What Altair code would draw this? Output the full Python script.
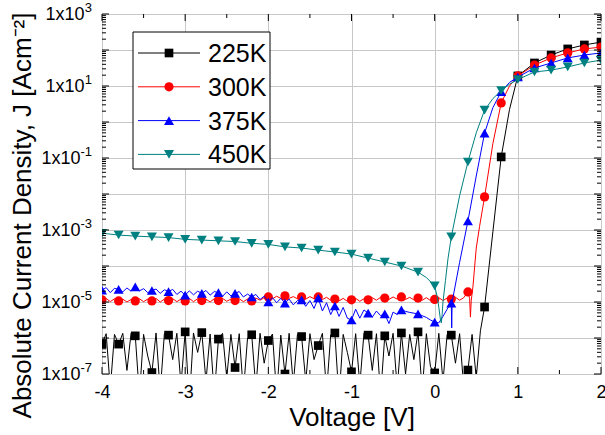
import altair as alt
import pandas as pd

SERIES = ["225K", "300K", "375K", "450K"]
COLORS = ["#000000", "#ff0000", "#0000ff", "#008080"]
SHAPES = ["square", "circle", "triangle-up", "triangle-down"]
SIZES = [75, 85, 100, 100]

X_TICKS = [-4, -3, -2, -1, 0, 1, 2]
Y_LABEL_J = [1e3, 1e1, 1e-1, 1e-3, 1e-5, 1e-7]
Y_LABEL_EXP = ["3", "1", "-1", "-3", "-5", "-7"]

# ---- marker data (every 0.2 V), log10 of J ----
X_MARK = [round(-4 + 0.2 * i, 1) for i in range(31)]
M225 = [-6.17, -6.17, -5.94, -6.96, -5.92, -5.83, -5.85, -6.03, -6.82, -5.91,
        -6.07, -7.0, -5.96, -6.21, -5.86, -6.94, -5.92, -5.94, -5.86, -5.83,
        -6.97, -5.92, -6.89, -5.14, -0.97, 1.28, 1.64, 1.86, 2.03, 2.14, 2.22]
M300 = [-4.94, -4.97, -4.97, -4.97, -4.96, -4.97, -4.96, -4.96, -4.96, -4.97,
        -4.86, -4.83, -4.86, -4.86, -4.92, -4.94, -4.94, -4.89, -4.86, -4.89,
        -4.93, -4.92, -4.72, -2.08, 0.53, 1.28, 1.58, 1.78, 1.92, 2.03, 2.08]
M375 = [-4.67, -4.65, -4.58, -4.68, -4.71, -4.81, -4.76, -4.74, -4.76, -4.86,
        -5.00, -5.03, -4.94, -4.89, -5.11, -5.50, -5.31, -5.33, -5.22, -5.33,
        -5.56, -5.03, -2.75, -0.31, 0.84, 1.25, 1.50, 1.64, 1.78, 1.86, 1.92]
M450 = [-3.09, -3.14, -3.17, -3.19, -3.21, -3.26, -3.28, -3.30, -3.32, -3.37,
        -3.40, -3.47, -3.50, -3.56, -3.61, -3.67, -3.78, -3.89, -4.00, -4.17,
        -4.55, -3.19, -1.11, 0.33, 0.87, 1.18, 1.39, 1.44, 1.53, 1.64, 1.72]

# ---- measured line data, log10 of J ----
X_L225 = [round(-4 + 0.05 * i, 2) for i in range(91)] + [0.55, 0.6, 0.7, 0.8, 0.9, 1.0, 1.2, 1.4, 1.6, 1.8, 2.0]
L225 = [-6.17, -5.88, -7.4, -5.90, -6.17, -5.87, -6.9, -5.86,
        -5.94, -7.6, -5.90, -6.5, -6.96, -5.86, -7.5, -5.88,
        -5.92, -6.6, -5.87, -7.3, -5.83, -7.8, -5.86, -6.4,
        -5.85, -7.2, -5.89, -7.6, -6.03, -5.87, -7.1, -5.90,
        -6.82, -5.88, -7.5, -6.0, -5.91, -7.4, -5.87, -6.7,
        -6.07, -5.89, -7.6, -5.92, -7.0, -5.87, -7.3, -5.9,
        -5.96, -7.2, -5.88, -6.6, -6.21, -5.87, -7.5, -5.91,
        -5.86, -7.7, -5.9, -6.4, -6.94, -5.88, -7.3, -5.86,
        -5.92, -6.9, -5.88, -7.6, -5.94, -6.5, -5.87, -7.4,
        -5.86, -7.0, -5.9, -6.6, -5.83, -7.5, -5.88, -6.8,
        -6.97, -5.87, -7.2, -5.9, -5.92, -6.7, -5.88, -7.4,
        -6.89, -5.9, -7.1,
        -5.8, -5.14, -3.05, -0.97, 0.35, 1.28, 1.64, 1.86, 2.03, 2.14, 2.22]

X_L300 = [round(-4 + 0.05 * i, 2) for i in range(89)] + [0.42, 0.43, 0.44, 0.46, 0.5, 0.54, 0.6, 0.7, 0.8, 0.9, 1.0, 1.2, 1.4, 1.6, 1.8, 2.0]
L300 = [-4.94, -4.90, -4.99, -4.91, -4.97, -4.92, -5.00, -4.93,
        -4.97, -4.91, -4.99, -4.92, -4.97, -4.90, -5.00, -4.92,
        -4.96, -4.91, -4.99, -4.92, -4.97, -4.90, -4.99, -4.91,
        -4.96, -4.92, -5.00, -4.91, -4.96, -4.90, -4.98, -4.92,
        -4.96, -4.91, -4.99, -4.92, -4.97, -4.89, -4.95, -4.88,
        -4.86, -4.91, -4.84, -4.90, -4.83, -4.90, -4.85, -4.91,
        -4.86, -4.92, -4.85, -4.91, -4.86, -4.93, -4.87, -4.95,
        -4.92, -4.97, -4.90, -4.98, -4.94, -4.90, -4.98, -4.91,
        -4.94, -4.88, -4.95, -4.87, -4.89, -4.93, -4.86, -4.92,
        -4.86, -4.93, -4.87, -4.94, -4.89, -4.95, -4.88, -4.96,
        -4.93, -4.88, -4.96, -4.89, -4.92, -4.87, -4.95, -4.88,
        -4.72,
        -4.9, -5.42, -4.95, -4.58, -3.5, -2.9, -2.08, -0.6, 0.53, 1.0, 1.28, 1.58, 1.78, 1.92, 2.03, 2.08]

X_L375 = [round(-4 + 0.05 * i, 2) for i in range(81)] + [0.05, 0.1, 0.15, 0.19, 0.2, 0.205, 0.21, 0.3, 0.4, 0.5, 0.6, 0.7, 0.8, 0.9, 1.0, 1.2, 1.4, 1.6, 1.8, 2.0]
L375 = [-4.67, -4.60, -4.74, -4.62, -4.65, -4.72, -4.61, -4.70,
        -4.58, -4.69, -4.63, -4.74, -4.68, -4.64, -4.76, -4.66,
        -4.71, -4.65, -4.79, -4.70, -4.81, -4.69, -4.80, -4.70,
        -4.76, -4.68, -4.81, -4.71, -4.74, -4.84, -4.72, -4.83,
        -4.76, -4.71, -4.86, -4.78, -4.86, -4.79, -4.93, -4.84,
        -5.00, -4.88, -5.02, -4.90, -5.03, -4.92, -5.08, -4.96,
        -4.94, -5.12, -4.96, -5.18, -4.89, -5.25, -5.02, -5.35,
        -5.11, -5.40, -5.15, -5.45, -5.50, -5.20, -5.45, -5.22,
        -5.31, -5.42, -5.25, -5.38, -5.33, -5.60, -5.28, -5.35,
        -5.22, -5.26, -5.29, -5.31, -5.33, -5.38, -5.43, -5.50,
        -5.56,
        -5.58, -5.40, -5.20, -5.05, -5.03, -5.72, -5.0, -3.9, -2.75, -1.5, -0.31, 0.4, 0.84, 1.1, 1.25, 1.5, 1.64, 1.78, 1.86, 1.92]

X_L450 = [-4.0, -3.8, -3.6, -3.4, -3.2, -3.0, -2.8, -2.6, -2.4, -2.2, -2.0, -1.8, -1.6, -1.4, -1.2, -1.0,
          -0.8, -0.6, -0.4, -0.2, -0.1, 0.0, 0.03, 0.05, 0.07, 0.08, 0.09, 0.10, 0.13, 0.16, 0.2, 0.3,
          0.4, 0.5, 0.6, 0.7, 0.8, 0.9, 1.0, 1.2, 1.4, 1.6, 1.8, 2.0]
L450 = [-3.09, -3.14, -3.17, -3.19, -3.21, -3.26, -3.28, -3.30, -3.32, -3.37, -3.40, -3.47, -3.50, -3.56, -3.61, -3.67,
        -3.78, -3.89, -4.00, -4.17, -4.32, -4.55, -4.85, -5.15, -5.5, -5.58, -5.35, -5.0, -4.4, -3.8, -3.19, -2.05,
        -1.11, -0.3, 0.33, 0.65, 0.87, 1.05, 1.18, 1.39, 1.44, 1.53, 1.64, 1.72]

LINES = [(X_L225, L225), (X_L300, L300), (X_L375, L375), (X_L450, L450)]
MARKS = [M225, M300, M375, M450]

FONT = "Liberation Sans"
W, H = 499, 360

xsc = alt.Scale(domain=[-4, 2], nice=False, zero=False)
ysc = alt.Scale(type="log", domain=[1e-7, 1e3], nice=False)


def df_of(xs, logs, name):
    return pd.DataFrame({"V": xs, "J": [10.0 ** v for v in logs], "series": name})


layers = []

# grid + axes carrier
decades = [10.0 ** k for k in range(-7, 4)]
axes_layer = alt.Chart(pd.DataFrame({"V": [-4.0, 2.0], "J": [1e-7, 1e3]})).mark_point(opacity=0).encode(
    x=alt.X("V:Q", scale=xsc, axis=alt.Axis(
        values=X_TICKS, labelExpr="toString(datum.value)", ticks=False, tickSize=0, domain=False,
        grid=True, gridColor="#c8c8c8", gridWidth=1, labelFontSize=18, labelFont=FONT, labelColor="black",
        labelPadding=9, labelFlush=False, title="Voltage [V]", titleFontSize=26, titleFont=FONT,
        titleFontWeight="normal", titleColor="black", titlePadding=3)),
    y=alt.Y("J:Q", scale=ysc, axis=alt.Axis(
        values=decades, labels=False, ticks=False, tickSize=0, domain=False, grid=True,
        gridColor="#c8c8c8", gridWidth=1, title="Absolute Current Density, J [Acm⁻²]",
        titleFontSize=26, titleFont=FONT, titleFontWeight="normal", titleColor="black",
        titleX=-80, titleY=201, titleAngle=270, titleAlign="center", titleBaseline="middle")),
)
layers.append(axes_layer)

# series
for i, name in enumerate(SERIES):
    xs, ls = LINES[i]
    ldf = df_of(xs, ls, name)
    mdf = df_of(X_MARK, MARKS[i], name)
    layers.append(alt.Chart(ldf).mark_line(color=COLORS[i], strokeWidth=1, clip=True).encode(
        x=alt.X("V:Q", scale=xsc), y=alt.Y("J:Q", scale=ysc)))
    layers.append(alt.Chart(mdf).mark_point(shape=SHAPES[i], filled=True, color=COLORS[i], size=SIZES[i],
                                            opacity=1, clip=True).encode(
        x=alt.X("V:Q", scale=xsc), y=alt.Y("J:Q", scale=ysc)))

# inward ticks
minor_y = [m * 10.0 ** k for k in range(-7, 3) for m in range(2, 10)]
minor_x = [v + 0.5 for v in X_TICKS[:-1]]
ymaj = pd.DataFrame({"J": decades})
ymin = pd.DataFrame({"J": minor_y})
xmaj = pd.DataFrame({"V": X_TICKS})
xmin = pd.DataFrame({"V": minor_x})
for d, ln in ((ymaj, 7), (ymin, 4)):
    layers.append(alt.Chart(d).mark_rule(color="black", strokeWidth=1).encode(
        y=alt.Y("J:Q", scale=ysc), x=alt.value(0), x2=alt.value(ln)))
    layers.append(alt.Chart(d).mark_rule(color="black", strokeWidth=1).encode(
        y=alt.Y("J:Q", scale=ysc), x=alt.value(W), x2=alt.value(W - ln)))
for d, ln in ((xmaj, 7), (xmin, 4)):
    layers.append(alt.Chart(d).mark_rule(color="black", strokeWidth=1).encode(
        x=alt.X("V:Q", scale=xsc), y=alt.value(0), y2=alt.value(ln)))
    layers.append(alt.Chart(d).mark_rule(color="black", strokeWidth=1).encode(
        x=alt.X("V:Q", scale=xsc), y=alt.value(H), y2=alt.value(H - ln)))

# y tick labels 1x10^n
lab = pd.DataFrame({"J": Y_LABEL_J, "e": Y_LABEL_EXP})
layers.append(alt.Chart(lab).transform_calculate(
    bx="-10 - (length(datum.e) > 1 ? 11.5 : 7.5)").mark_text(
    align="right", baseline="middle", fontSize=18, font=FONT, color="black", dy=1).encode(
    x=alt.X("bx:Q", scale=None), y=alt.Y("J:Q", scale=ysc), text=alt.value("1x10")))
layers.append(alt.Chart(lab).mark_text(
    align="right", baseline="middle", fontSize=13, font=FONT, color="black", dy=-6).encode(
    x=alt.value(-10), y=alt.Y("J:Q", scale=ysc), text="e:N"))

# legend
one = pd.DataFrame({"a": [0]})
layers.append(alt.Chart(one).mark_rect(fill="white", stroke="black", strokeWidth=1).encode(
    x=alt.value(31), x2=alt.value(168), y=alt.value(18), y2=alt.value(155)))
for i, name in enumerate(SERIES):
    ry = 39 + 33.8 * i
    layers.append(alt.Chart(one).mark_rule(color=COLORS[i], strokeWidth=1).encode(
        x=alt.value(36), x2=alt.value(98), y=alt.value(ry)))
    layers.append(alt.Chart(one).mark_point(shape=SHAPES[i], filled=True, color=COLORS[i], size=SIZES[i],
                                            opacity=1).encode(x=alt.value(67), y=alt.value(ry)))
    layers.append(alt.Chart(one).mark_text(align="left", baseline="middle", fontSize=25, font=FONT,
                                           color="black").encode(
        x=alt.value(106), y=alt.value(ry + 1), text=alt.value(name)))

chart = alt.layer(*layers).properties(
    width=W, height=H,
    autosize=alt.AutoSizeParams(type="none"),
    padding={"left": 102, "top": 14, "right": 4, "bottom": 61},
    background="white",
).configure_view(stroke="black", strokeWidth=1.5).configure(font=FONT)

chart.save("out.html", embed_options={"renderer": "svg", "actions": False})
